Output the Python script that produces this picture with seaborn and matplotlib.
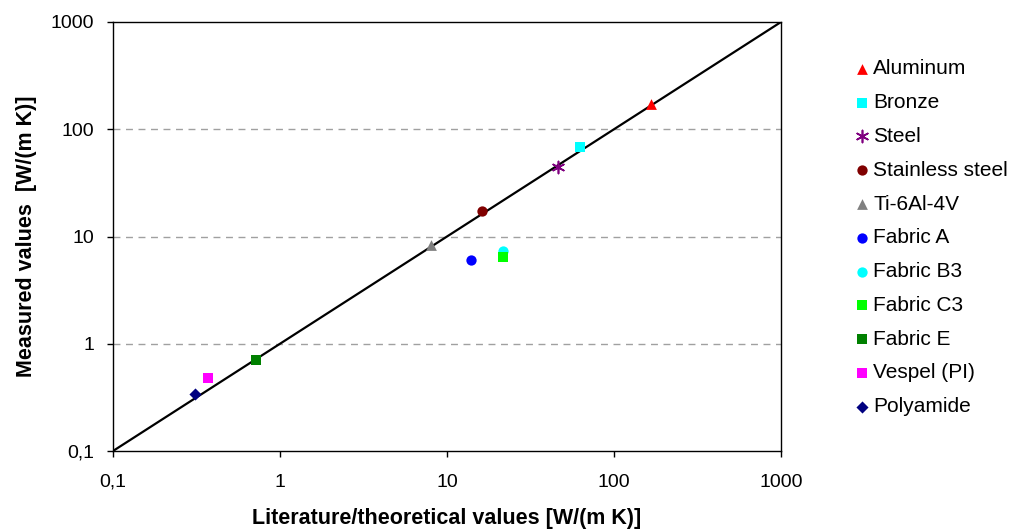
import matplotlib
matplotlib.use("Agg")
import matplotlib.pyplot as plt
import seaborn as sns
import pandas as pd

materials = ["Aluminum", "Bronze", "Steel", "Stainless steel", "Ti-6Al-4V",
             "Fabric A", "Fabric B3", "Fabric C3", "Fabric E", "Vespel (PI)", "Polyamide"]
literature = [166, 62.5, 46, 16.2, 8.0, 13.9, 21.6, 21.6, 0.72, 0.37, 0.31]
measured = [172, 68, 44, 17.3, 8.3, 6.0, 7.4, 6.4, 0.70, 0.48, 0.34]
colors = ["#FF0000", "#00FFFF", "#800080", "#800000", "#808080",
          "#0000FF", "#00FFFF", "#00FF00", "#008000", "#FF00FF", "#000080"]
markers = ["^", "s", (6, 2, 0), "o", "^", "o", "o", "s", "s", "s", "D"]
sizes = [60, 50, 75, 55, 60, 55, 55, 50, 50, 50, 38]
line_x = [0.1, 1000]
line_y = [0.1, 1000]
ticks = [0.1, 1, 10, 100, 1000]
tick_labels = ["0,1", "1", "10", "100", "1000"]

sns.set_theme(style="white")
plt.rcParams["font.family"] = ["Liberation Sans", "DejaVu Sans"]
plt.rcParams["text.color"] = "black"
plt.rcParams["axes.labelcolor"] = "black"
plt.rcParams["xtick.color"] = "black"
plt.rcParams["ytick.color"] = "black"

df = pd.DataFrame({"material": materials, "lit": literature, "meas": measured})

fig = plt.figure(figsize=(10.24, 5.31), dpi=100)
ax = fig.add_axes([113/1024, 80/531, 668/1024, 429/531])

ax.set_xscale("log")
ax.set_yscale("log")
ax.set_xlim(0.1, 1000)
ax.set_ylim(0.1, 1000)

for yv in [1, 10, 100]:
    ax.axhline(yv, color="#A0A0A0", lw=1, ls=(0, (5, 4)), zorder=0)

sns.lineplot(x=line_x, y=line_y, ax=ax, color="black", lw=1.6, zorder=1)

for i, row in df.iterrows():
    star = markers[i] == (6, 2, 0)
    sns.scatterplot(x=[row["lit"]], y=[row["meas"]], ax=ax, marker=markers[i],
                    color=colors[i], s=sizes[i], edgecolor=None if star else colors[i],
                    linewidth=1.2 if star else 0,
                    label=row["material"], zorder=3)

ax.set_xticks(ticks)
ax.set_xticklabels(tick_labels)
ax.set_yticks(ticks)
ax.set_yticklabels(tick_labels)
ax.minorticks_off()
ax.tick_params(axis="both", which="major", direction="out", length=4.5, width=1,
               color="black", labelsize=14, bottom=True, left=True)
ax.tick_params(axis="x", pad=12)
ax.tick_params(axis="y", pad=9)

for s in ax.spines.values():
    s.set_visible(True)
    s.set_color("black")
    s.set_linewidth(1)

label_font = {"family": ["Liberation Sans", "DejaVu Sans"], "weight": "bold", "size": 15.5}
ax.set_xlabel("Literature/theoretical values [W/(m K)]", fontdict=label_font, labelpad=12)
ax.set_ylabel("Measured values  [W/(m K)]", fontdict=label_font, labelpad=10)

leg = ax.legend(loc="upper left", bbox_to_anchor=(843/1024, 1 - 51/531),
                bbox_transform=fig.transFigure, frameon=False, fontsize=15,
                handletextpad=0.05, labelspacing=0.71, borderaxespad=0,
                handlelength=1.0, markerscale=1.0)

fig.savefig("out.png", dpi=100)
